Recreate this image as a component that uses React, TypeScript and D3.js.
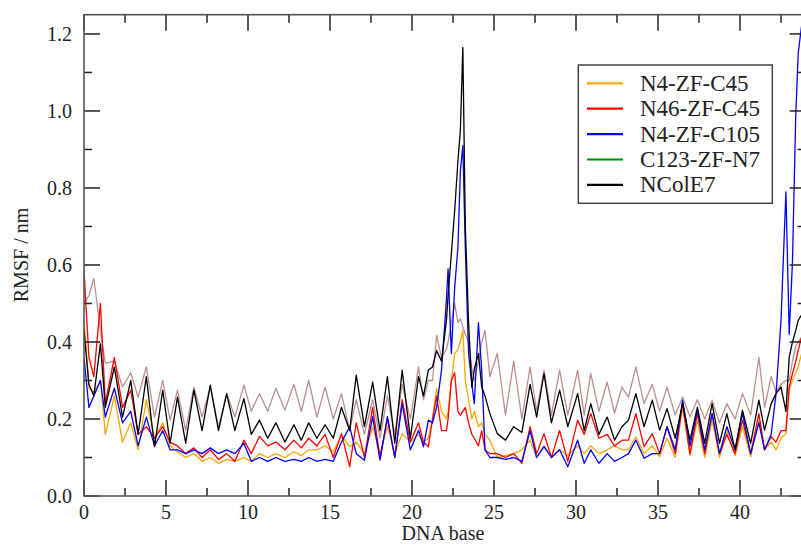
import React from "react";
import * as d3 from "d3";

// sample positions along the DNA-base axis (shared by all series)
const sampleX = [
  0, 0.3, 0.6, 1.0, 1.3, 1.85, 2.35, 2.85, 3.3, 3.8,
  4.3, 4.8, 5.25, 5.7, 6.2, 6.7, 7.2, 7.7, 8.2, 8.7,
  9.2, 9.75, 10.2, 10.7, 11.2, 11.7, 12.25, 12.8, 13.25, 13.7,
  14.2, 14.7, 15.2, 15.7, 16.2, 16.6, 17.1, 17.6, 18.05, 18.5,
  18.95, 19.4, 19.9, 20.4, 20.7, 21.0, 21.25, 21.5, 21.8, 22.1,
  22.2, 22.4, 22.6, 22.8, 22.95, 23.1, 23.25, 23.45, 23.65, 23.8,
  24.05, 24.25, 24.45, 24.75, 25.2, 25.7, 26.2, 26.7, 27.2, 27.6,
  28.05, 28.5, 29.0, 29.5, 30.1, 30.5, 30.9, 31.4, 31.9, 32.35,
  32.8, 33.2, 33.65, 34.15, 34.65, 35.1, 35.55, 36.05, 36.5, 36.95,
  37.4, 37.85, 38.3, 38.75, 39.2, 39.7, 40.15, 40.65, 41.15, 41.5,
  41.9, 42.2, 42.5, 42.8, 43.0, 43.2, 43.4, 43.55, 43.75,
];

const brownVals = [
  0.50, 0.52, 0.565, 0.43, 0.345, 0.35, 0.283, 0.32, 0.257, 0.335,
  0.205, 0.30, 0.197, 0.275, 0.17, 0.283, 0.205, 0.283, 0.18, 0.266,
  0.205, 0.288, 0.22, 0.266, 0.22, 0.28, 0.223, 0.29, 0.22, 0.30,
  0.205, 0.283, 0.20, 0.266, 0.17, 0.25, 0.16, 0.25, 0.15, 0.26,
  0.16, 0.29, 0.20, 0.335, 0.25, 0.30, 0.30, 0.417, 0.36, 0.38,
  0.40, 0.45, 0.50, 0.45, 0.46, 0.44, 0.42, 0.40, 0.33, 0.30,
  0.35, 0.40, 0.43, 0.31, 0.37, 0.21, 0.35, 0.20, 0.335, 0.22,
  0.327, 0.21, 0.327, 0.21, 0.327, 0.21, 0.318, 0.22, 0.296, 0.215,
  0.283, 0.257, 0.335, 0.24, 0.29, 0.22, 0.283, 0.21, 0.257, 0.206,
  0.25, 0.20, 0.249, 0.19, 0.24, 0.20, 0.266, 0.21, 0.36, 0.23,
  0.31, 0.27, 0.29, 0.30, 0.30, 0.35, 0.39, 0.40, 0.41,
];

const orangeVals = [
  0.46, 0.28, 0.27, 0.30, 0.16, 0.26, 0.14, 0.19, 0.12, 0.25,
  0.15, 0.19, 0.13, 0.115, 0.10, 0.11, 0.09, 0.10, 0.085, 0.095,
  0.09, 0.10, 0.09, 0.11, 0.10, 0.11, 0.10, 0.115, 0.105, 0.12,
  0.12, 0.13, 0.115, 0.158, 0.128, 0.14, 0.11, 0.18, 0.11, 0.18,
  0.11, 0.162, 0.14, 0.16, 0.14, 0.15, 0.20, 0.28, 0.22, 0.20,
  0.22, 0.30, 0.37, 0.38, 0.40, 0.43, 0.30, 0.25, 0.20, 0.22,
  0.18, 0.19, 0.16, 0.145, 0.10, 0.105, 0.11, 0.12, 0.145, 0.10,
  0.13, 0.10, 0.12, 0.105, 0.13, 0.11, 0.13, 0.11, 0.12, 0.13,
  0.12, 0.12, 0.154, 0.11, 0.13, 0.102, 0.15, 0.10, 0.23, 0.105,
  0.197, 0.10, 0.197, 0.10, 0.17, 0.105, 0.18, 0.102, 0.197, 0.12,
  0.14, 0.12, 0.15, 0.162, 0.275, 0.30, 0.32, 0.335, 0.37,
];

const redVals = [
  0.586, 0.36, 0.31, 0.50, 0.24, 0.36, 0.23, 0.275, 0.16, 0.18,
  0.15, 0.18, 0.14, 0.13, 0.11, 0.125, 0.10, 0.12, 0.095, 0.11,
  0.09, 0.145, 0.11, 0.155, 0.13, 0.14, 0.12, 0.145, 0.125, 0.15,
  0.13, 0.16, 0.10, 0.162, 0.076, 0.19, 0.10, 0.23, 0.10, 0.20,
  0.10, 0.25, 0.14, 0.19, 0.14, 0.128, 0.20, 0.26, 0.17, 0.17,
  0.20, 0.30, 0.32, 0.22, 0.21, 0.22, 0.23, 0.19, 0.16, 0.15,
  0.13, 0.17, 0.12, 0.11, 0.11, 0.10, 0.11, 0.085, 0.18, 0.11,
  0.162, 0.10, 0.17, 0.09, 0.197, 0.16, 0.214, 0.15, 0.16, 0.13,
  0.145, 0.145, 0.214, 0.128, 0.162, 0.11, 0.18, 0.11, 0.24, 0.11,
  0.214, 0.11, 0.214, 0.11, 0.16, 0.11, 0.197, 0.11, 0.214, 0.12,
  0.154, 0.14, 0.17, 0.17, 0.283, 0.318, 0.35, 0.378, 0.413,
];

const blueVals = [
  0.36, 0.23, 0.26, 0.30, 0.205, 0.28, 0.19, 0.22, 0.13, 0.205,
  0.13, 0.17, 0.12, 0.12, 0.11, 0.12, 0.11, 0.125, 0.11, 0.12,
  0.11, 0.137, 0.09, 0.10, 0.09, 0.10, 0.09, 0.095, 0.09, 0.10,
  0.09, 0.095, 0.09, 0.14, 0.18, 0.11, 0.093, 0.206, 0.093, 0.206,
  0.10, 0.24, 0.12, 0.171, 0.128, 0.197, 0.19, 0.23, 0.327, 0.51,
  0.59, 0.37, 0.54, 0.646, 0.845, 0.91, 0.646, 0.37, 0.29, 0.24,
  0.45, 0.327, 0.12, 0.10, 0.10, 0.095, 0.10, 0.09, 0.17, 0.10,
  0.128, 0.10, 0.12, 0.076, 0.145, 0.085, 0.12, 0.085, 0.11, 0.09,
  0.10, 0.11, 0.145, 0.098, 0.11, 0.11, 0.18, 0.12, 0.249, 0.13,
  0.223, 0.12, 0.214, 0.11, 0.18, 0.12, 0.214, 0.11, 0.19, 0.12,
  0.16, 0.266, 0.456, 0.79, 0.42, 0.61, 0.99, 1.15, 1.22,
];

const blackVals = [
  0.43, 0.29, 0.26, 0.395, 0.23, 0.335, 0.205, 0.30, 0.16, 0.31,
  0.128, 0.275, 0.137, 0.257, 0.137, 0.275, 0.17, 0.288, 0.17, 0.266,
  0.17, 0.253, 0.16, 0.197, 0.15, 0.19, 0.14, 0.185, 0.145, 0.19,
  0.15, 0.185, 0.15, 0.23, 0.17, 0.314, 0.18, 0.296, 0.17, 0.31,
  0.137, 0.327, 0.15, 0.31, 0.26, 0.327, 0.335, 0.378, 0.35, 0.456,
  0.52, 0.63, 0.74, 0.87, 0.95, 1.165, 0.70, 0.45, 0.283, 0.33,
  0.37, 0.283, 0.26, 0.214, 0.162, 0.145, 0.18, 0.165, 0.29, 0.205,
  0.318, 0.19, 0.275, 0.18, 0.266, 0.17, 0.24, 0.16, 0.205, 0.145,
  0.18, 0.197, 0.266, 0.18, 0.249, 0.171, 0.227, 0.15, 0.24, 0.145,
  0.23, 0.137, 0.24, 0.137, 0.214, 0.12, 0.223, 0.137, 0.249, 0.171,
  0.24, 0.266, 0.283, 0.22, 0.36, 0.40, 0.43, 0.456, 0.47,
];

const legendLabels = ["N4-ZF-C45", "N46-ZF-C45", "N4-ZF-C105", "C123-ZF-N7", "NColE7"];
const legendColors = ["#ffa500", "#ff0000", "#0000ff", "#008b00", "#000000"];

const xMajor = [0, 5, 10, 15, 20, 25, 30, 35, 40];
const xMinor = [2.5, 7.5, 12.5, 17.5, 22.5, 27.5, 32.5, 37.5, 42.5];
const yMajor = [0, 0.2, 0.4, 0.6, 0.8, 1.0, 1.2];
const yMinor = [0.1, 0.3, 0.5, 0.7, 0.9, 1.1];

export default function App() {
  const W = 801, H = 545;
  const L = 84, R = 805.6, T = 14.7, B = 496;
  const x = d3.scaleLinear().domain([0, 44]).range([L, R]);
  const y = d3.scaleLinear().domain([0, 1.25]).range([B, T]);
  const line = d3.line<number>().x((_, i) => x(sampleX[i])).y((d) => y(d));

  const series = [
    { vals: brownVals, color: "#bc8f8f" },
    { vals: orangeVals, color: "#ffa500" },
    { vals: redVals, color: "#ff0000" },
    { vals: blueVals, color: "#0000ff" },
    { vals: blackVals, color: "#000000" },
  ];

  const font = "Liberation Serif, Times New Roman, Times, serif";
  const tickCol = "#222";
  const majLen = 16, minLen = 8;

  return (
    <svg width={W} height={H} style={{ position: "absolute", left: 0, top: 0, background: "#fff" }}>
      <defs>
        <clipPath id="plot">
          <rect x={L} y={T} width={R - L} height={B - T} />
        </clipPath>
      </defs>
      <rect x={0} y={0} width={W} height={H} fill="#fff" />
      <g clipPath="url(#plot)">
        {series.map((s, i) => (
          <path key={i} d={line(s.vals) || ""} fill="none" stroke={s.color} strokeWidth={1.3} strokeLinejoin="round" />
        ))}
      </g>
      <g stroke={tickCol} strokeWidth={1.5}>
        {xMajor.map((v) => (
          <g key={"xm" + v}>
            <line x1={x(v)} x2={x(v)} y1={B} y2={B - majLen} />
            <line x1={x(v)} x2={x(v)} y1={T} y2={T + majLen} />
          </g>
        ))}
        {xMinor.map((v) => (
          <g key={"xn" + v}>
            <line x1={x(v)} x2={x(v)} y1={B} y2={B - minLen} />
            <line x1={x(v)} x2={x(v)} y1={T} y2={T + minLen} />
          </g>
        ))}
        {yMajor.map((v) => (
          <g key={"ym" + v}>
            <line x1={L} x2={L + majLen} y1={y(v)} y2={y(v)} />
            <line x1={R} x2={R - majLen} y1={y(v)} y2={y(v)} />
          </g>
        ))}
        {yMinor.map((v) => (
          <g key={"yn" + v}>
            <line x1={L} x2={L + minLen} y1={y(v)} y2={y(v)} />
            <line x1={R} x2={R - minLen} y1={y(v)} y2={y(v)} />
          </g>
        ))}
      </g>
      <rect x={L} y={T} width={R - L} height={B - T} fill="none" stroke="#555" strokeWidth={1.6} />
      <g style={{ fontFamily: font }} fontSize={20} fill="#222">
        {xMajor.map((v) => (
          <text key={"xl" + v} x={x(v)} y={519} textAnchor="middle">{v}</text>
        ))}
        {yMajor.map((v) => (
          <text key={"yl" + v} x={72} y={y(v) + 7} textAnchor="end">{v.toFixed(1)}</text>
        ))}
        <text x={443} y={540} textAnchor="middle">DNA base</text>
        <text transform={`translate(28,255) rotate(-90)`} textAnchor="middle">RMSF / nm</text>
      </g>
      <rect x={578.3} y={65} width={194} height={138.3} fill="#fff" stroke="#444" strokeWidth={1.5} />
      {legendLabels.map((lab, i) => {
        const cy = 83.3 + i * 25.4;
        return (
          <g key={lab}>
            <line x1={587} x2={623} y1={cy} y2={cy} stroke={legendColors[i]} strokeWidth={2.2} />
            <text x={640} y={cy + 7.5} style={{ fontFamily: font }} fontSize={23} fill="#222">{lab}</text>
          </g>
        );
      })}
    </svg>
  );
}
